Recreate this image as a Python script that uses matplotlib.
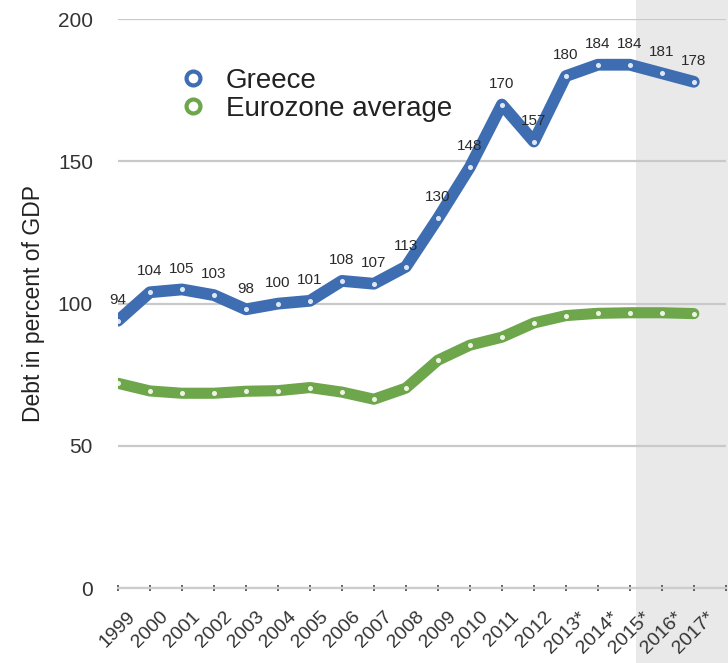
import numpy as np
import matplotlib
matplotlib.use("Agg")
import matplotlib.pyplot as plt
from matplotlib.lines import Line2D

plt.rcParams['font.family'] = ['Liberation Sans', 'DejaVu Sans']

# data
years = ['1999', '2000', '2001', '2002', '2003', '2004', '2005', '2006', '2007',
         '2008', '2009', '2010', '2011', '2012', '2013*', '2014*', '2015*',
         '2016*', '2017*']
greece = [94, 104, 105, 103, 98, 100, 101, 108, 107, 113, 130, 148, 170, 157,
          180, 184, 184, 181, 178]
eurozone = [72.0, 69.3, 68.5, 68.5, 69.2, 69.4, 70.5, 68.9, 66.4, 70.3, 80.1,
            85.4, 88.2, 93.2, 95.8, 96.6, 96.8, 96.8, 96.5]

blue = '#3f6db2'
green = '#6da64b'

fig = plt.figure(figsize=(7.28, 6.63), dpi=100)
ax = fig.add_axes([0.162, 0.113, 0.835, 0.858])
ax.patch.set_alpha(0)

x = np.arange(len(years))

# projection shading (2015 onwards)
ax.axvspan(16.2, 19.6, ymin=-0.2, ymax=1.1, color='#e9e9e9', lw=0,
           zorder=0.1, clip_on=False)

ax.plot(x, greece, color=blue, lw=8.5, solid_joinstyle='round',
        solid_capstyle='round', zorder=3)
ax.plot(x, greece, 'o', color='#dfe8f6', ms=2.6, zorder=4)
ax.plot(x, eurozone, color=green, lw=8.0, solid_joinstyle='round',
        solid_capstyle='round', zorder=3)
ax.plot(x, eurozone, 'o', color='#eef5e4', ms=2.6, zorder=4)

for xi, v in zip(x, greece):
    ax.annotate(str(v), (xi, v), xytext=(0, 15), textcoords='offset points',
                ha='center', va='center', fontsize=11, color='#2a2a2a',
                zorder=5)

ax.set_xlim(0, 19)
ax.set_ylim(0, 200)
ax.set_yticks([0, 50, 100, 150, 200])
ax.set_xticks(np.arange(20))
ax.set_xticklabels(years + [''], rotation=45, ha='center', fontsize=14,
                   color='#333333')
ax.tick_params(axis='x', direction='inout', length=5, width=1.2,
               color='#444444', pad=12)
ax.tick_params(axis='y', length=0, pad=18, labelsize=15, labelcolor='#333333')

ax.grid(axis='y', color='#c9c9c9', lw=1.6)
ax.set_axisbelow(True)
for s in ['top', 'right', 'left']:
    ax.spines[s].set_visible(False)
ax.spines['bottom'].set_color('#cccccc')
ax.spines['bottom'].set_linewidth(1.6)

ax.set_ylabel('Debt in percent of GDP', fontsize=16.5, color='#222222',
              labelpad=9)

handles = [Line2D([], [], ls='none', marker='o', ms=10, mew=3,
                  mfc='white', mec=blue),
           Line2D([], [], ls='none', marker='o', ms=10, mew=3,
                  mfc='white', mec=green)]
ax.legend(handles, ['Greece', 'Eurozone average'], loc='upper left',
          bbox_to_anchor=(0.059, 0.958), frameon=False, fontsize=20,
          handlelength=1.0, handletextpad=0.7, labelspacing=0.05,
          labelcolor='#222222')

fig.savefig('out.png', dpi=100)
